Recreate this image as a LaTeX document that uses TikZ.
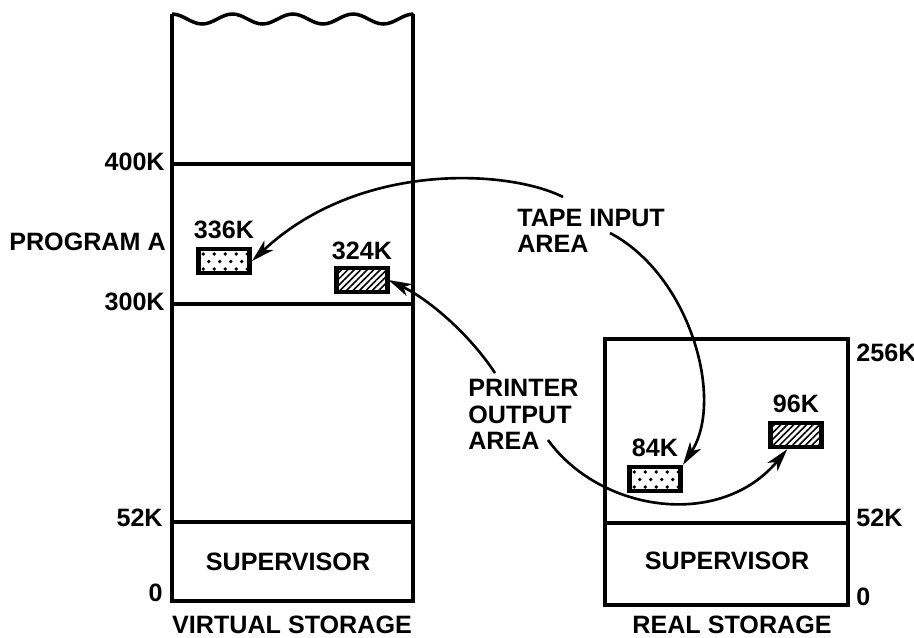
\documentclass[tikz,border=0pt]{standalone}
\usepackage{fontspec}
\setmainfont{Liberation Sans}
\usepackage{tikz}
\usetikzlibrary{arrows.meta,positioning,patterns.meta}

\begin{document}
\begin{tikzpicture}[x=0.02cm, y=-0.02cm,
  font=\fontsize{14.3}{15}\selectfont\bfseries,
  node distance=1.5mm,
  wall/.style={line width=2pt},
  area/.style={draw, line width=2.6pt, minimum width=1.03cm,
               minimum height=0.48cm, inner sep=0pt},
  dotfill/.style={path picture={
      \foreach \i in {0,...,4} \foreach \j in {0,1,2}
        \fill ([shift={({\i*11+mod(\j,2)*5.5+5},{\j*7.5+5})}]path picture bounding box.north west)
          circle[radius=1.1pt];}},
  hatchfill/.style={pattern={Lines[angle=45,distance=2.6pt,line width=0.9pt]}},
  lbl/.style={inner sep=0pt},
  arr/.style={-{Stealth[length=4.6mm,width=2.6mm,inset=1.3mm]}, line width=1.5pt}]
\useasboundingbox (0,0) rectangle (914,637);
% virtual storage column
\draw[wall] (172,14) -- (172,601) -- (413,601) -- (413,14);
\draw[wall] (172,14) foreach \k in {1,...,4} {cos ++(15.1,5) sin ++(15.1,5) cos ++(15.1,-5) sin ++(15.1,-5)};
\draw[wall] (172,164) -- (413,164);
\draw[wall] (172,304) -- (413,304);
\draw[wall] (172,522) -- (413,522);
\node[lbl, anchor=east] (v400) at (165,162) {400K};
\node[lbl, anchor=east] (v300) at (165,302) {300K};
\node[lbl, anchor=east] (v52) at (163,518) {52K};
\node[lbl, anchor=east] (v0) at (163,593) {0};
\node[lbl, anchor=west] (progA) at (9,242) {PROGRAM A};
\node[lbl] (supV) at (288,562) {SUPERVISOR};
\node[lbl] (virt) at (292,625) {VIRTUAL STORAGE};
% real storage column
\draw[wall] (605,339) rectangle (848,605);
\draw[wall] (605,523) -- (848,523);
\node[lbl, anchor=west] (r256) at (856,353) {256K};
\node[lbl, anchor=west] (r52) at (856,518) {52K};
\node[lbl, anchor=west] (r0) at (856,597) {0};
\node[lbl] (supR) at (727,561) {SUPERVISOR};
\node[lbl] (real) at (732,625) {REAL STORAGE};
% buffer areas
\node[area, dotfill] (tapeV) at (224,261) {};
\node[lbl, above=of tapeV] {336K};
\node[area, hatchfill] (prtV) at (362,280) {};
\node[lbl, above=of prtV] {324K};
\node[area, dotfill] (tapeR) at (655,479) {};
\node[lbl, above=of tapeR] {84K};
\node[area, hatchfill] (prtR) at (796,435) {};
\node[lbl, above=of prtR] {96K};
% mapping
\node[lbl, align=left, anchor=north west] (tape) at (517,209) {TAPE INPUT\\AREA};
\node[lbl, align=left, anchor=north west] (printer) at (468,379) {PRINTER\\OUTPUT\\AREA};
\draw[arr] ([shift={(46,-12)}]tape.north west) .. controls (510,170) and (360,160) .. (tapeV.east);
\draw[arr] ([shift={(93,24)}]tape.north west) .. controls (690,275) and (725,400) .. (tapeR.north east);
\draw[arr] ([shift={(27,-6)}]printer.north west) .. controls (470,335) and (430,300) .. (prtV.east);
\draw[arr] ([shift={(80,61)}]printer.north west) .. controls (600,512) and (720,530) .. ([xshift=-5pt]prtR.south);
\end{tikzpicture}
\end{document}
